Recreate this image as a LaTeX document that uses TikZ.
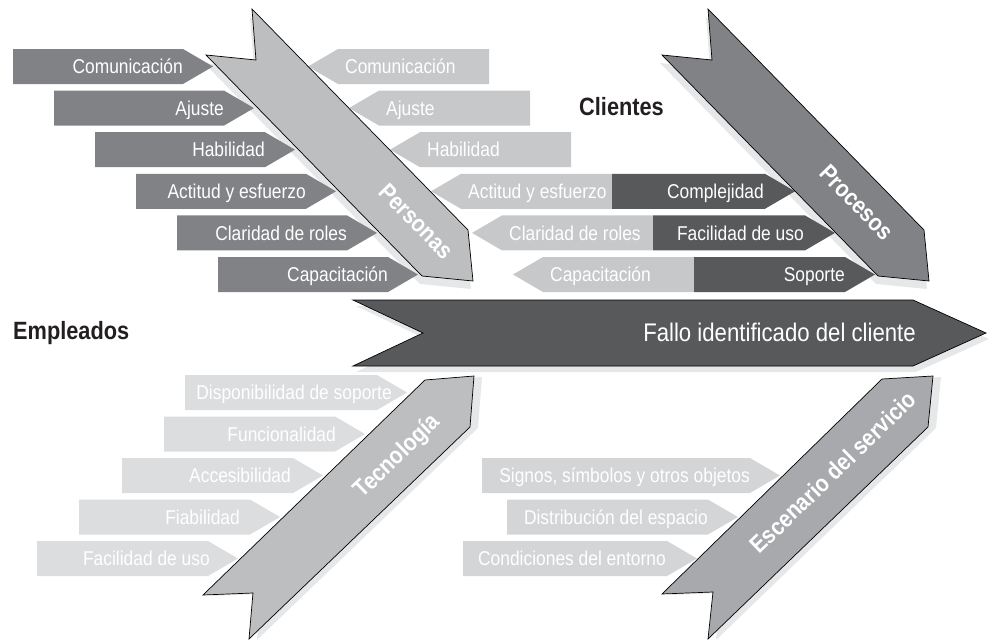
\documentclass[tikz,border=0pt]{standalone}
\usepackage{fontspec}
\setmainfont{Liberation Sans}[FakeStretch=0.87]
\usepackage{tikz}

\definecolor{bonedark}{HTML}{58595B}
\definecolor{bonemid}{HTML}{808285}
\definecolor{bonelight}{HTML}{BCBEC0}
\definecolor{boneesc}{HTML}{A7A9AC}
\definecolor{causelight}{HTML}{C7C8CA}
\definecolor{causepale}{HTML}{DCDDDE}
\definecolor{causeesc}{HTML}{D4D5D7}
\definecolor{shadowgray}{HTML}{E6E7E8}
\definecolor{titleblack}{HTML}{231F20}

\begin{document}
\begin{tikzpicture}[x=1pt, y=-1pt]
\tikzstyle{shade} = [fill=shadowgray]
\tikzstyle{bone} = [draw=black, line width=0.7pt, line join=miter]
\tikzstyle{cause} = [inner sep=0pt, text=white, font=\fontsize{20}{24}\selectfont, text height=14.3pt, text depth=0pt]
\tikzstyle{causeR} = [cause, anchor=east]
\tikzstyle{causeL} = [cause, anchor=west]
\tikzstyle{bonelabel} = [inner sep=0pt, text=white, font=\bfseries\fontsize{24}{28}\selectfont, text height=17.2pt, text depth=0pt]
\tikzstyle{group} = [inner sep=0pt, anchor=west, text=titleblack, font=\bfseries\fontsize{25}{30}\selectfont, text height=17.9pt, text depth=0pt]

\useasboundingbox (0,0) rectangle (989,640);

% shadows
\fill[shade, shift={(-2,8)}] (252,9) -- (468,230) -- (473,281) -- (422,276) -- (206,55) -- (256,60) -- cycle;
\fill[shade, shift={(-2,8)}] (708,9) -- (924,230) -- (929,281) -- (878,276) -- (662,55) -- (712,60) -- cycle;
\fill[shade, shift={(3,6)}] (353,300) -- (913,300) -- (986,333) -- (913,366) -- (353,366) -- (423,333) -- cycle;
\fill[shade, shift={(8,1)}] (203,595) -- (425,380) -- (474,376) -- (470,427) -- (249,639) -- (253,593) -- cycle;
\fill[shade, shift={(8,1)}] (662,594) -- (882,379) -- (933,376) -- (928,427) -- (708,639) -- (713,592) -- cycle;

% Personas, left side
\fill[bonemid] (13,49) -- ++(170,0) -- ++(30,17.5) -- ++(-30,17.5) -- ++(-170,0) -- cycle;
\fill[bonemid] (54,90.6) -- ++(170,0) -- ++(30,17.5) -- ++(-30,17.5) -- ++(-170,0) -- cycle;
\fill[bonemid] (95,132.2) -- ++(170,0) -- ++(30,17.5) -- ++(-30,17.5) -- ++(-170,0) -- cycle;
\fill[bonemid] (136,173.8) -- ++(170,0) -- ++(30,17.5) -- ++(-30,17.5) -- ++(-170,0) -- cycle;
\fill[bonemid] (177,215.4) -- ++(170,0) -- ++(30,17.5) -- ++(-30,17.5) -- ++(-170,0) -- cycle;
\fill[bonemid] (218,257) -- ++(170,0) -- ++(30,17.5) -- ++(-30,17.5) -- ++(-170,0) -- cycle;
\node[causeR] (e1) at (183,66.5) {Comunicación};
\node[causeR] (e2) at (224,108.1) {Ajuste};
\node[causeR] (e3) at (265,149.7) {Habilidad};
\node[causeR] (e4) at (306,191.3) {Actitud y esfuerzo};
\node[causeR] (e5) at (347,232.9) {Claridad de roles};
\node[causeR] (e6) at (388,274.5) {Capacitación};

% Personas, right side
\fill[causelight] (308,66.5) -- ++(30,-17.5) -- ++(151,0) -- ++(0,35) -- ++(-151,0) -- cycle;
\fill[causelight] (349,108.1) -- ++(30,-17.5) -- ++(151,0) -- ++(0,35) -- ++(-151,0) -- cycle;
\fill[causelight] (390,149.7) -- ++(30,-17.5) -- ++(151,0) -- ++(0,35) -- ++(-151,0) -- cycle;
\fill[causelight] (431,191.3) -- ++(30,-17.5) -- ++(151,0) -- ++(0,35) -- ++(-151,0) -- cycle;
\fill[causelight] (472,232.9) -- ++(30,-17.5) -- ++(151,0) -- ++(0,35) -- ++(-151,0) -- cycle;
\fill[causelight] (513,274.5) -- ++(30,-17.5) -- ++(151,0) -- ++(0,35) -- ++(-151,0) -- cycle;
\node[causeL] (c1) at (345,66.5) {Comunicación};
\node[causeL] (c2) at (386,108.1) {Ajuste};
\node[causeL] (c3) at (427,149.7) {Habilidad};
\node[causeL] (c4) at (468,191.3) {Actitud y esfuerzo};
\node[causeL] (c5) at (509,232.9) {Claridad de roles};
\node[causeL] (c6) at (550,274.5) {Capacitación};

% Procesos
\fill[bonedark] (612,173.8) -- ++(153,0) -- ++(30,17.5) -- ++(-30,17.5) -- ++(-153,0) -- cycle;
\fill[bonedark] (653,215.4) -- ++(152,0) -- ++(30,17.5) -- ++(-30,17.5) -- ++(-152,0) -- cycle;
\fill[bonedark] (694,257) -- ++(151,0) -- ++(30,17.5) -- ++(-30,17.5) -- ++(-151,0) -- cycle;
\node[causeR] (p1) at (764,191.3) {Complejidad};
\node[causeR] (p2) at (804,232.9) {Facilidad de uso};
\node[causeR] (p3) at (845,274.5) {Soporte};

% Tecnologia
\fill[causepale] (185,375) -- ++(192,0) -- ++(30,17.5) -- ++(-30,17.5) -- ++(-192,0) -- cycle;
\fill[causepale] (164,416.5) -- ++(171,0) -- ++(30,17.5) -- ++(-30,17.5) -- ++(-171,0) -- cycle;
\fill[causepale] (122,458) -- ++(171,0) -- ++(30,17.5) -- ++(-30,17.5) -- ++(-171,0) -- cycle;
\fill[causepale] (79,499.5) -- ++(171,0) -- ++(30,17.5) -- ++(-30,17.5) -- ++(-171,0) -- cycle;
\fill[causepale] (37,541) -- ++(171,0) -- ++(30,17.5) -- ++(-30,17.5) -- ++(-171,0) -- cycle;
\node[causeR] (t1) at (392,392.5) {Disponibilidad de soporte};
\node[causeR] (t2) at (336,434) {Funcionalidad};
\node[causeR] (t3) at (291,475.5) {Accesibilidad};
\node[causeR] (t4) at (240,517) {Fiabilidad};
\node[causeR] (t5) at (210,558.5) {Facilidad de uso};

% Escenario del servicio
\fill[causeesc] (482,458) -- ++(268,0) -- ++(30,17.5) -- ++(-30,17.5) -- ++(-268,0) -- cycle;
\fill[causeesc] (507,499.5) -- ++(201,0) -- ++(30,17.5) -- ++(-30,17.5) -- ++(-201,0) -- cycle;
\fill[causeesc] (463,541) -- ++(204,0) -- ++(30,17.5) -- ++(-30,17.5) -- ++(-204,0) -- cycle;
\node[causeR] (s1) at (750,475.5) {Signos, símbolos y otros objetos};
\node[causeR] (s2) at (708,517) {Distribución del espacio};
\node[causeR] (s3) at (666,558.5) {Condiciones del entorno};

% bones
\filldraw[bone, fill=bonelight] (252,9) -- (468,230) -- (473,281) -- (422,276) -- (206,55) -- (256,60) -- cycle;
\filldraw[bone, fill=bonemid] (708,9) -- (924,230) -- (929,281) -- (878,276) -- (662,55) -- (712,60) -- cycle;
\filldraw[bone, fill=bonedark] (353,300) -- (913,300) -- (986,333) -- (913,366) -- (353,366) -- (423,333) -- cycle;
\filldraw[bone, fill=bonelight] (203,595) -- (425,380) -- (474,376) -- (470,427) -- (249,639) -- (253,593) -- cycle;
\filldraw[bone, fill=boneesc] (662,594) -- (882,379) -- (933,376) -- (928,427) -- (708,639) -- (713,592) -- cycle;

\node[bonelabel, rotate=-45.65] (personas) at (417,221) {Personas};
\node[bonelabel, rotate=-45.65] (procesos) at (857,202) {Procesos};
\node[bonelabel, rotate=44.1] (tecnologia) at (396,455) {Tecnología};
\node[bonelabel, rotate=44.1] (escenario) at (833,472) {Escenario del servicio};

\node[inner sep=0pt, anchor=east, text=white, font=\fontsize{25.5}{30}\selectfont, text height=18.3pt, text depth=0pt] (fallo) at (916,332.5) {Fallo identificado del cliente};

\node[group] (clientes) at (579,106.7) {Clientes};
\node[group] (empleados) at (13,331) {Empleados};
\end{tikzpicture}
\end{document}
